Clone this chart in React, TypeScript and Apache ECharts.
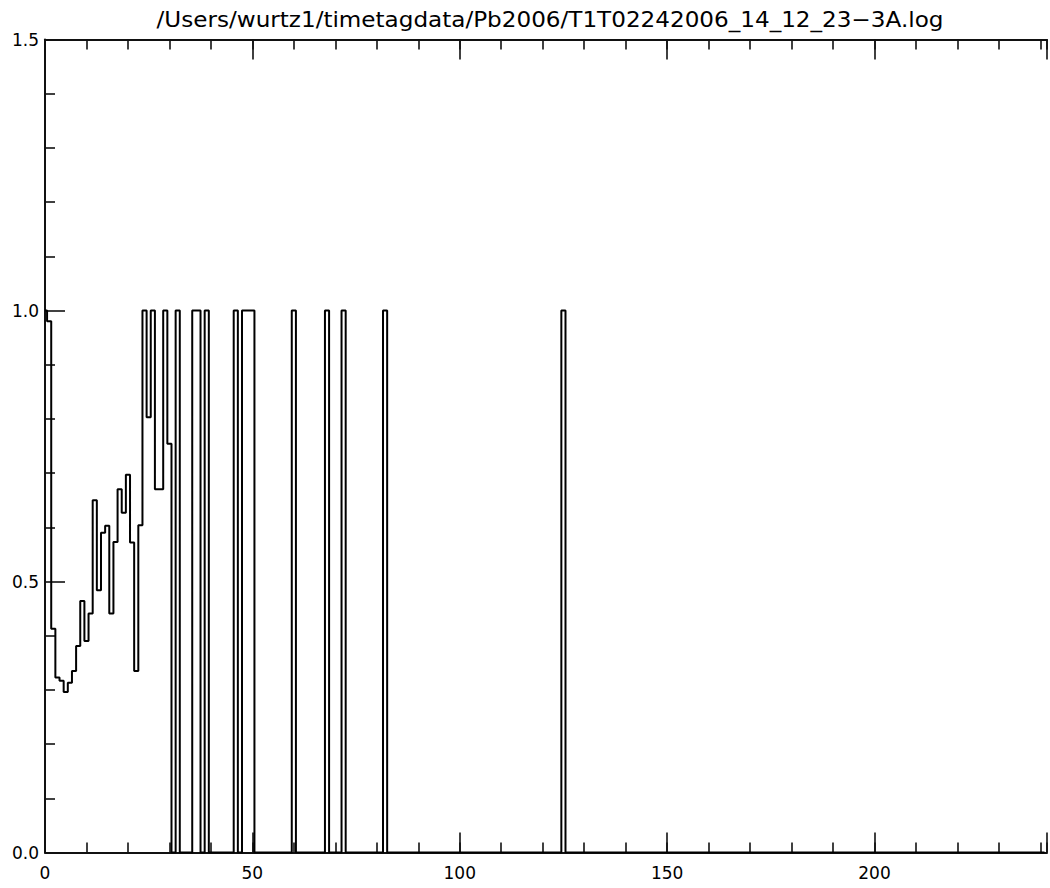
import React, { useEffect, useRef } from "react";
import * as echarts from "echarts";

const TITLE = "/Users/wurtz1/timetagdata/Pb2006/T1T02242006_14_12_23\u22123A.log";

// bins 0..30 (bin centres at integers)
const earlyValues = [
  1.0, 0.98, 0.413, 0.323, 0.317, 0.296, 0.313, 0.335, 0.381, 0.464,
  0.39, 0.441, 0.65, 0.484, 0.59, 0.603, 0.441, 0.573, 0.67, 0.627,
  0.697, 0.572, 0.335, 0.604, 1.0, 0.803, 1.0, 0.67, 0.67, 1.0,
  0.754,
];
// later bins whose value is 1.0 (all other later bins are 0)
const fullBins = [32, 36, 37, 39, 46, 48, 49, 50, 60, 68, 72, 82, 125];
const LAST_BIN = 241;
const X_MIN = 0;
const X_MAX = 241.6;
const Y_MIN = 0;
const Y_MAX = 1.5;
const xMajor = 50;
const xMinor = 10;
const yMajor = 0.5;

export default function App() {
  const ref = useRef<HTMLDivElement>(null);
  useEffect(() => {
    if (!ref.current) return;
    const chart = echarts.init(ref.current, null, { renderer: "svg" });
    const data: [number, number][] = [];
    for (let i = 0; i <= LAST_BIN; i++) {
      const v = i < earlyValues.length ? earlyValues[i] : fullBins.includes(i) ? 1 : 0;
      data.push([i, v]);
    }
    const axisColor = "#111";
    const font = "DejaVu Sans";
    const xBase = (position: string, interval: number, len: number, labels: boolean, line: boolean) => ({
      type: "value",
      position,
      min: X_MIN,
      max: X_MAX,
      interval,
      axisLine: { show: line, onZero: false, lineStyle: { color: axisColor, width: 2 } },
      axisTick: { show: true, inside: true, length: len, lineStyle: { color: axisColor, width: 1.6 } },
      axisLabel: {
        show: labels,
        margin: 12,
        color: "#000",
        fontFamily: font,
        fontSize: 17,
        formatter: (v: number) => (v % xMajor === 0 ? String(v) : ""),
      },
      splitLine: { show: false },
    });
    chart.setOption({
      animation: false,
      backgroundColor: "#fff",
      grid: { left: 45, right: 0, top: 39.5, bottom: 35.5, containLabel: false },
      graphic: [
        {
          type: "text",
          x: 550,
          y: 20,
          scaleX: 1.1,
          style: {
            text: TITLE,
            fill: "#000",
            font: `21px ${font}`,
            textAlign: "center",
            textVerticalAlign: "middle",
          },
        },
      ],
      xAxis: [
        xBase("bottom", xMajor, 20, true, true),
        xBase("bottom", xMinor, 10, false, false),
        xBase("top", xMajor, 20, false, true),
        xBase("top", xMinor, 10, false, false),
      ],
      yAxis: [
        {
          type: "value",
          position: "left",
          min: Y_MIN,
          max: Y_MAX,
          interval: yMajor,
          axisLine: { show: true, onZero: false, lineStyle: { color: axisColor, width: 2 } },
          axisTick: { show: true, inside: true, length: 20, lineStyle: { color: axisColor, width: 1.6 } },
          minorTick: { show: true, splitNumber: 5, length: 10, lineStyle: { color: axisColor, width: 1.6 } },
          axisLabel: {
            margin: 6,
            color: "#000",
            fontFamily: font,
            fontSize: 17,
            formatter: (v: number) => v.toFixed(1),
          },
          splitLine: { show: false },
        },
      ],
      series: [
        {
          type: "line",
          xAxisIndex: 0,
          yAxisIndex: 0,
          step: "middle",
          data,
          symbol: "none",
          lineStyle: { color: "#000", width: 2 },
        },
      ],
    });
    return () => chart.dispose();
  }, []);
  return (
    <div
      ref={ref}
      style={{ position: "absolute", left: 0, top: 0, width: 1050, height: 888, background: "#fff" }}
    />
  );
}
